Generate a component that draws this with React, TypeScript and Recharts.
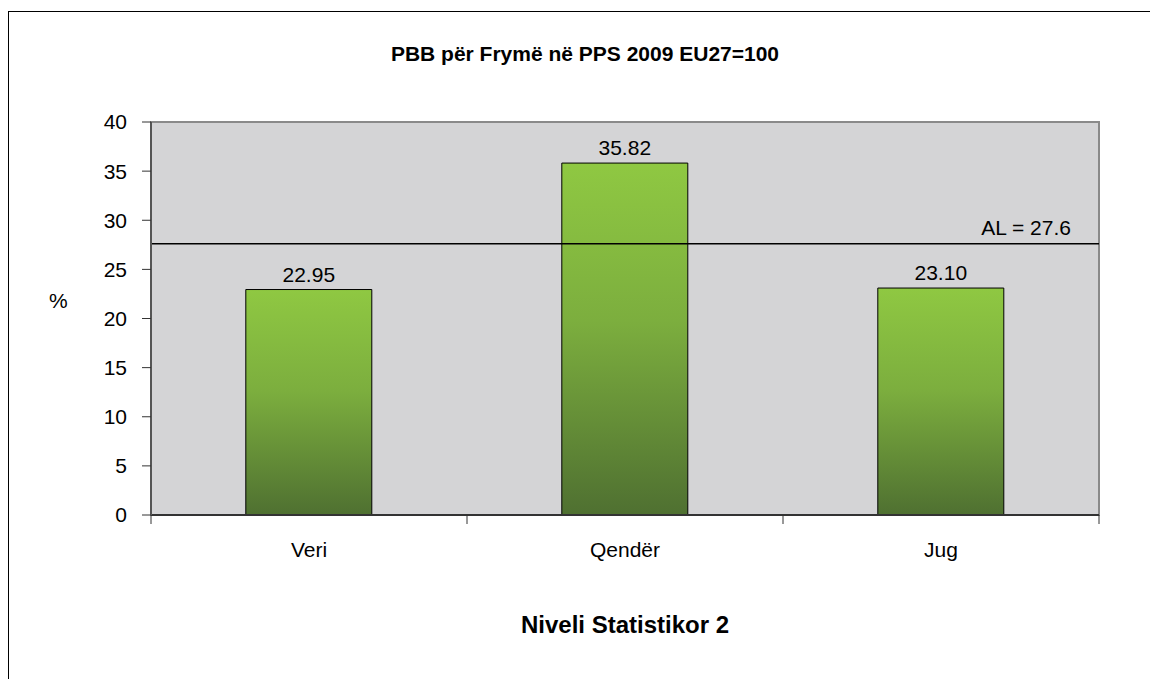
import React from 'react';
import { BarChart, Bar, XAxis, YAxis, CartesianGrid, ReferenceLine, ReferenceArea, LabelList } from 'recharts';

const regions = ['Veri', 'Qendër', 'Jug'];
const gdpPerCapita = [22.95, 35.82, 23.1];
const yTicks = [0, 5, 10, 15, 20, 25, 30, 35, 40];
const averageLevel = 27.6;

const chartTitle = 'PBB për Frymë në PPS 2009 EU27=100';
const xTitle = 'Niveli Statistikor 2';
const yTitle = '%';

const data = regions.map((name, i) => ({ name, value: gdpPerCapita[i] }));

const FONT = '"Liberation Sans", Arial, sans-serif';
const TICK_SIZE = 9;
const TICK_MARGIN = 18;

// category ticks sit on band boundaries like in Excel, labels stay centred
const CategoryTick = (props: any) => {
  const { x, y, payload, index, visibleTicksCount } = props;
  const half = payload?.offset ?? 158;
  const top = y - TICK_MARGIN - TICK_SIZE;
  return (
    <g>
      <line x1={x - half} x2={x - half} y1={top} y2={top + TICK_SIZE} stroke="#333" />
      {index === visibleTicksCount - 1 && (
        <line x1={x + half} x2={x + half} y1={top} y2={top + TICK_SIZE} stroke="#333" />
      )}
      <text x={x} y={y} dy="0.71em" textAnchor="middle" fontSize={21} fill="#000" fontFamily={FONT}>
        {payload.value}
      </text>
    </g>
  );
};

export default function App() {
  return (
    <div
      style={{
        position: 'absolute',
        top: 11,
        left: 8,
        width: 1142,
        height: 668,
        boxSizing: 'border-box',
        borderTop: '1px solid #000',
        borderLeft: '1px solid #000',
        fontFamily: FONT,
        overflow: 'hidden',
      }}
    >
      <div
        style={{
          position: 'absolute',
          top: 31,
          left: 0,
          width: 1141,
          paddingLeft: 11,
          boxSizing: 'border-box',
          textAlign: 'center',
          fontSize: 21,
          lineHeight: '21px',
          fontWeight: 'bold',
          color: '#000',
        }}
      >
        {chartTitle}
      </div>
      <BarChart
        width={1141}
        height={667}
        data={data}
        margin={{ top: 110, right: 51, bottom: 44, left: 40 }}
        barCategoryGap="30%"
      >
        <defs>
          <linearGradient id="barGreen" x1="0" y1="0" x2="0" y2="1">
            <stop offset="0%" stopColor="#8fc842" />
            <stop offset="45%" stopColor="#7cae3e" />
            <stop offset="100%" stopColor="#4f7031" />
          </linearGradient>
        </defs>
        <CartesianGrid horizontal={false} vertical={false} fill="#d4d4d6" />
        <ReferenceArea y1={0} y2={40} fill="none" stroke="#8a8a8a" strokeWidth={2} />
        <XAxis
          dataKey="name"
          height={120}
          axisLine={{ stroke: '#333', strokeWidth: 2 }}
          tickLine={false}
          tickSize={TICK_SIZE}
          tickMargin={TICK_MARGIN}
          tick={<CategoryTick />}
          interval={0}
          label={{ value: xTitle, position: 'insideBottom', offset: 2, fontSize: 24, fontWeight: 'bold', fill: '#000', fontFamily: FONT }}
        />
        <YAxis
          width={102}
          domain={[0, 40]}
          ticks={yTicks}
          interval={0}
          axisLine={{ stroke: '#555', strokeWidth: 2 }}
          tickLine={{ stroke: '#333' }}
          tickSize={TICK_SIZE}
          tickMargin={15}
          tick={{ fontSize: 21, fill: '#000', fontFamily: FONT }}
          label={{ value: yTitle, position: 'insideLeft', offset: 0, dy: -18, fontSize: 21, fill: '#000', fontFamily: FONT }}
        />
        <Bar dataKey="value" fill="url(#barGreen)" stroke="#000" strokeWidth={1} isAnimationActive={false}>
          <LabelList
            dataKey="value"
            position="top"
            offset={8}
            formatter={(v: any) => Number(v).toFixed(2)}
            style={{ fontSize: 21, fill: '#000', fontFamily: FONT }}
          />
        </Bar>
        <ReferenceLine
          y={averageLevel}
          stroke="#000"
          strokeWidth={1.5}
          label={(p: any) => {
            const vb = p.viewBox || {};
            return (
              <text x={vb.x + vb.width - 28} y={vb.y - 9} textAnchor="end" fontSize={21} fill="#000" fontFamily={FONT}>
                {`AL = ${averageLevel}`}
              </text>
            );
          }}
        />
      </BarChart>
    </div>
  );
}
